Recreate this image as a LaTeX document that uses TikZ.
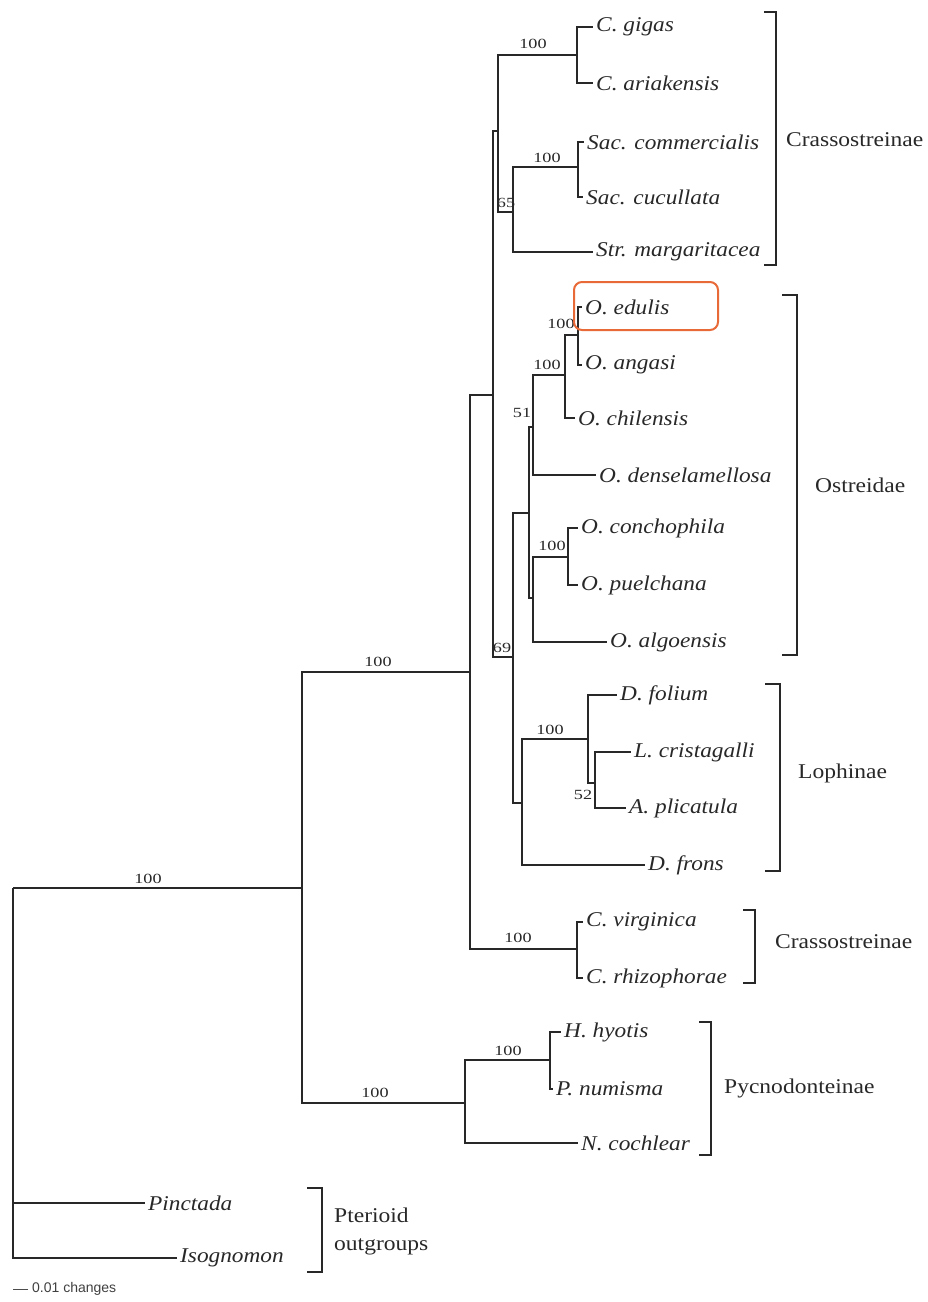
\documentclass[tikz,border=0pt]{standalone}
\usepackage{fontspec}
\setmainfont{Liberation Serif}
\newfontfamily\spfont[FakeStretch=1.11]{Liberation Serif}
\newfontfamily\gpfont[FakeStretch=1.12]{Liberation Serif}
\newfontfamily\bsfont[FakeStretch=1.3]{Liberation Serif}
\newfontfamily\scfont{Liberation Sans}
\definecolor{hlorange}{RGB}{232,106,56}
\definecolor{ink}{RGB}{40,40,40}
\tikzset{
  br/.style={line width=1.3pt, draw=ink},
  brk/.style={line width=1.3pt, draw=ink},
  leaf/.style={anchor=west, inner xsep=3pt, inner ysep=0pt, text=ink, font=\spfont\itshape\fontsize{21}{23}\selectfont},
  grp/.style={anchor=west, inner sep=0pt, text=ink, align=left, font=\gpfont\fontsize{21}{28}\selectfont},
  bs/.style={inner sep=0pt, text=ink, font=\bsfont\fontsize{14}{16}\selectfont},
  hl/.style={draw=hlorange, line width=2pt, rounded corners=8pt}
}
\begin{document}
\begin{tikzpicture}[x=1pt,y=-1pt]
\useasboundingbox (0,0) rectangle (928,1302);
% internal nodes
\coordinate (R)  at (13,888);
\coordinate (A)  at (302,888);
\coordinate (B)  at (470,672);
\coordinate (Py) at (465,1103);
\coordinate (C)  at (493,395);
\coordinate (V)  at (577,949);
\coordinate (N)  at (498,131);
\coordinate (D)  at (513,657);
\coordinate (G1) at (577,55);
\coordinate (O)  at (513,212);
\coordinate (P)  at (578,167);
\coordinate (E)  at (529,513);
\coordinate (L0) at (522,803);
\coordinate (F)  at (533,427);
\coordinate (J)  at (533,598);
\coordinate (Gn) at (565,375);
\coordinate (H)  at (578,335);
\coordinate (K)  at (568,557);
\coordinate (L)  at (588,739);
\coordinate (M)  at (595,783);
\coordinate (Q)  at (550,1060);
% leaves
\node[leaf] (gigas) at (593,27) {C. gigas};
\node[leaf] (ariak) at (593,83) {C. ariakensis};
\node[leaf] (sacco) at (584,142) {Sac. commercialis};
\node[leaf] (saccu) at (583,197) {Sac. cucullata};
\node[leaf] (strma) at (593,252) {Str. margaritacea};
\node[leaf] (edul)  at (582,307) {O. edulis};
\node[leaf] (anga)  at (582,365) {O. angasi};
\node[leaf] (chil)  at (575,418) {O. chilensis};
\node[leaf] (dens)  at (596,475) {O. denselamellosa};
\node[leaf] (conc)  at (578,528) {O. conchophila};
\node[leaf] (puel)  at (578,585) {O. puelchana};
\node[leaf] (algo)  at (607,642) {O. algoensis};
\node[leaf] (foli)  at (617,695) {D. folium};
\node[leaf] (cris)  at (631,752) {L. cristagalli};
\node[leaf] (plic)  at (626,808) {A. plicatula};
\node[leaf] (fron)  at (645,865) {D. frons};
\node[leaf] (virg)  at (583,922) {C. virginica};
\node[leaf] (rhiz)  at (583,978) {C. rhizophorae};
\node[leaf] (hyot)  at (561,1032) {H. hyotis};
\node[leaf] (numi)  at (553,1089) {P. numisma};
\node[leaf] (coch)  at (578,1143) {N. cochlear};
\node[leaf] (pinc)  at (145,1203) {Pinctada};
\node[leaf] (isog)  at (177,1258) {Isognomon};
% branches
\draw[br] (R) |- (A);
\draw[br] (R) |- (pinc.west);
\draw[br] (R) |- (isog.west);
\draw[br] (A) |- (B);
\draw[br] (A) |- (Py);
\draw[br] (B) |- (C);
\draw[br] (B) |- (V);
\draw[br] (C) |- (N);
\draw[br] (C) |- (D);
\draw[br] (N) |- (G1);
\draw[br] (N) |- (O);
\draw[br] (G1) |- (gigas.west);
\draw[br] (G1) |- (ariak.west);
\draw[br] (O) |- (P);
\draw[br] (O) |- (strma.west);
\draw[br] (P) |- (sacco.west);
\draw[br] (P) |- (saccu.west);
\draw[br] (D) |- (E);
\draw[br] (D) |- (L0);
\draw[br] (E) |- (F);
\draw[br] (E) |- (J);
\draw[br] (F) |- (Gn);
\draw[br] (F) |- (dens.west);
\draw[br] (Gn) |- (H);
\draw[br] (Gn) |- (chil.west);
\draw[br] (H) |- (edul.west);
\draw[br] (H) |- (anga.west);
\draw[br] (J) |- (K);
\draw[br] (J) |- (algo.west);
\draw[br] (K) |- (conc.west);
\draw[br] (K) |- (puel.west);
\draw[br] (L0) |- (L);
\draw[br] (L0) |- (fron.west);
\draw[br] (L) |- (foli.west);
\draw[br] (L) |- (M);
\draw[br] (M) |- (cris.west);
\draw[br] (M) |- (plic.west);
\draw[br] (V) |- (virg.west);
\draw[br] (V) |- (rhiz.west);
\draw[br] (Py) |- (Q);
\draw[br] (Py) |- (coch.west);
\draw[br] (Q) |- (hyot.west);
\draw[br] (Q) |- (numi.west);
% bootstrap values
\node[bs] (b1)  at (148,879) {100};
\node[bs] (b2)  at (378,662) {100};
\node[bs] (b3)  at (375,1093) {100};
\node[bs] (b4)  at (533,44) {100};
\node[bs] (b5)  at (506,203) {65};
\node[bs] (b6)  at (547,158) {100};
\node[bs] (b7)  at (561,324) {100};
\node[bs] (b8)  at (547,365) {100};
\node[bs] (b9)  at (522,413) {51};
\node[bs] (b10) at (552,546) {100};
\node[bs] (b11) at (502,648) {69};
\node[bs] (b12) at (550,730) {100};
\node[bs] (b13) at (583,795) {52};
\node[bs] (b14) at (518,938) {100};
\node[bs] (b15) at (508,1051) {100};
% highlight
\draw[hl] (574,282) rectangle (718,330);
% brackets
\draw[brk] (764,12) -- (776,12) -- (776,265) -- (764,265);
\draw[brk] (782,295) -- (797,295) -- (797,655) -- (782,655);
\draw[brk] (765,684) -- (780,684) -- (780,871) -- (765,871);
\draw[brk] (743,910) -- (755,910) -- (755,983) -- (743,983);
\draw[brk] (699,1022) -- (711,1022) -- (711,1155) -- (699,1155);
\draw[brk] (307,1188) -- (322,1188) -- (322,1272) -- (307,1272);
% group labels
\node[grp] (g1) at (786,140) {Crassostreinae};
\node[grp] (g2) at (815,485) {Ostreidae};
\node[grp] (g3) at (798,773) {Lophinae};
\node[grp] (g4) at (775,942) {Crassostreinae};
\node[grp] (g5) at (724,1088) {Pycnodonteinae};
\node[grp] (g6) at (334,1231) {Pterioid\\outgroups};
% scale bar
\node[anchor=west, inner sep=0pt, text=black!75, font=\scfont\fontsize{14}{16}\selectfont] (scl) at (32,1289) {0.01 changes};
\draw[line width=1pt, black!70] (scl.west) ++(-4,0) -- ++(-15,0);
\end{tikzpicture}
\end{document}
